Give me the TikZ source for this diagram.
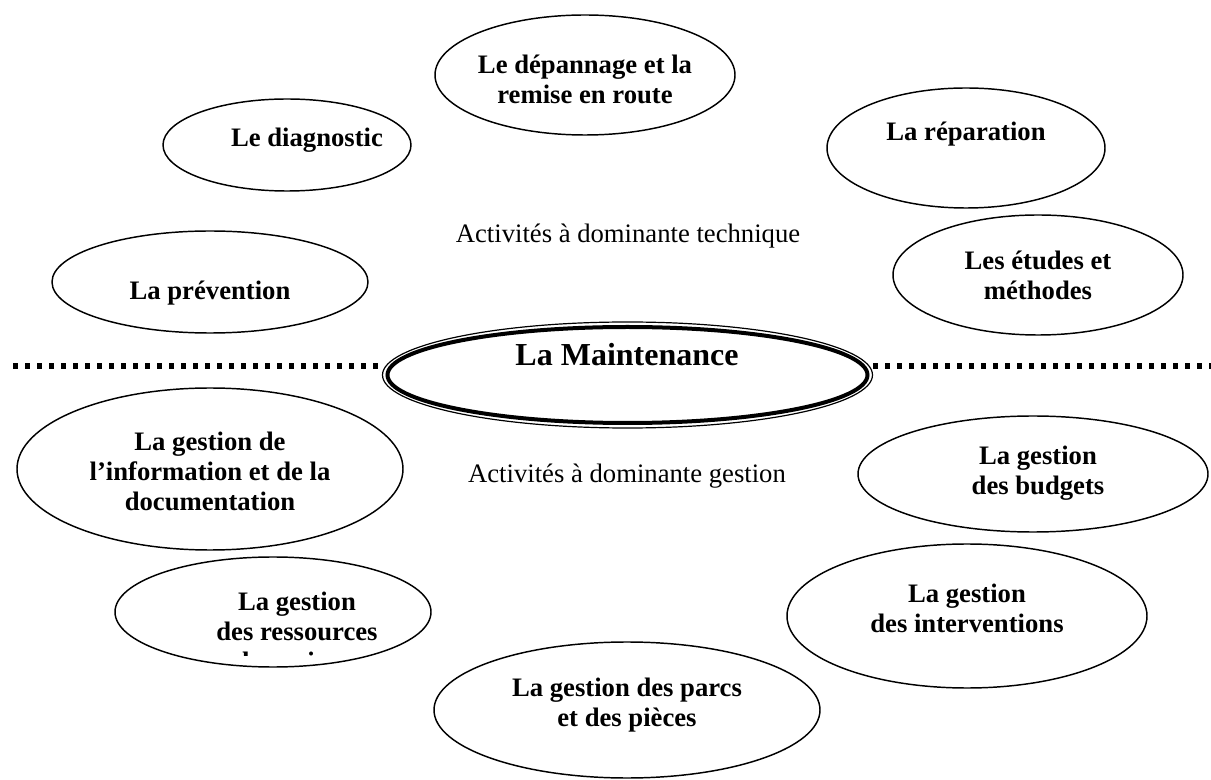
\documentclass[tikz,border=0pt]{standalone}
\usepackage{fontspec}
\setmainfont{Liberation Serif}
\usetikzlibrary{shapes.geometric}

\begin{document}
\begin{tikzpicture}[x=0.75pt,y=-0.75pt,
  oval/.style={ellipse,draw,line width=1.1pt,inner sep=0pt},
  lbl/.style={align=center,font=\fontsize{20}{22.5}\selectfont\bfseries},
  plain/.style={font=\fontsize{20}{22.5}\selectfont},
  dotline/.style={line width=4pt,dash pattern=on 4pt off 5pt}]
% Page frame
\useasboundingbox (0,0) rectangle (1211,780);

% Ovals (name/x/y/width/height, sizes in pt)
\foreach \n/\x/\y/\w/\h in {depan/585/75/225/90, diag/287/145/186/69,
    repar/966/148/208.5/90, prev/210/282/237/76.5, etud/1038/275/217.5/90,
    info/210/469/289.5/121.5, budg/1033/474/262.5/87, ress/273/612/237/82.5,
    interv/967/616/270/108, parcs/627/710/289.5/102} {
  \node[oval,minimum width=\w pt,minimum height=\h pt] (\n) at (\x,\y) {};
}

% Centre oval (thick-thin border)
\node[oval,line width=3pt,minimum width=360pt,minimum height=72pt] (maint) at (627.5,375) {};
\node[oval,line width=0.9pt,minimum width=367.5pt,minimum height=79.5pt] (maintring) at (maint) {};
\node[font=\fontsize{24}{27}\selectfont\bfseries] (maintTxt) at (627,355) {La Maintenance};

% Separator
\coordinate (lft) at (13,366);
\coordinate (rgt) at (1211,366);
\draw[dotline] (lft) -- (lft -| maintring.west);
\draw[dotline] (maintring.east |- rgt) -- (rgt);

% Labels, technique side
\node[lbl] (depanTxt) at (585,79) {Le dépannage et la\\remise en route};
\node[lbl] (diagTxt) at (307,140) {Le diagnostic};
\node[lbl] (reparTxt) at (966,134) {La réparation};
\node[lbl] (prevTxt) at (210,293) {La prévention};
\node[lbl] (etudTxt) at (1038,275) {Les études et\\méthodes};
\node[plain] (techTxt) at (628,236) {Activités à dominante technique};

% Labels, gestion side
\node[lbl] (infoTxt) at (210,471) {La gestion de\\l’information et de la\\documentation};
\node[plain] (gestTxt) at (627,476) {Activités à dominante gestion};
\node[lbl] (budgTxt) at (1038,473) {La gestion\\des budgets};
\node[lbl] (intervTxt) at (967,608) {La gestion\\des interventions};
\node[lbl] (parcsTxt) at (627,705) {La gestion des parcs\\et des pièces};
\begin{scope}
  \clip (100,560) rectangle (440,655);
  \node[lbl] (ressTxt) at (297,631) {La gestion\\des ressources\\humaines};
\end{scope}

\end{tikzpicture}
\end{document}
